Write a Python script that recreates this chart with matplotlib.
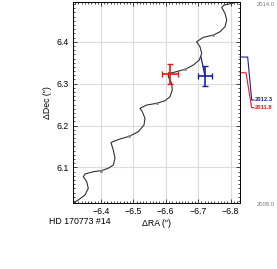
import matplotlib
matplotlib.use("Agg")
import matplotlib.pyplot as plt
from matplotlib.ticker import MultipleLocator, FuncFormatter

plt.rcParams['font.family'] = ['Liberation Sans', 'DejaVu Sans']

# model track
track_ra = [-6.3136, -6.3300, -6.3506, -6.3608, -6.3559, -6.3454, -6.3506, -6.3762,
            -6.4000, -6.4225, -6.4380, -6.4432, -6.4380, -6.4309, -6.4361, -6.4586,
            -6.4870, -6.5151, -6.5327, -6.5358, -6.5275, -6.5204, -6.5410, -6.5719,
            -6.5975, -6.6130, -6.6200, -6.6182, -6.6077, -6.6083, -6.6280, -6.6593,
            -6.6849, -6.7034, -6.7108, -6.7056, -6.6948, -6.7157, -6.7466, -6.7673,
            -6.7827, -6.7880, -6.7827, -6.7725, -6.7796, -6.8034, -6.8238]
track_dec = [6.0150, 6.0222, 6.0341, 6.0501, 6.0659, 6.0778, 6.0842, 6.0897,
             6.0921, 6.0979, 6.1057, 6.1217, 6.1415, 6.1589, 6.1613, 6.1678,
             6.1742, 6.1852, 6.2012, 6.2172, 6.2329, 6.2410, 6.2489, 6.2530,
             6.2592, 6.2687, 6.2847, 6.3007, 6.3165, 6.3241, 6.3277, 6.3341,
             6.3444, 6.3563, 6.3723, 6.3881, 6.4000, 6.4105, 6.4160, 6.4239,
             6.4358, 6.4518, 6.4678, 6.4821, 6.4876, 6.4916, 6.4955]

# yearly marks on the track
dot_ra = [-6.4000, -6.4870, -6.5719, -6.6593, -6.7466]
dot_dec = [6.0921, 6.1742, 6.2530, 6.3341, 6.4160]

# measurements
epochs = ["2012.3", "2011.8"]
meas_ra = [-6.721, -6.613]
meas_dec = [6.318, 6.323]
err_ra = [0.0225, 0.0247]
err_dec = [0.024, 0.025]
pred_ra = [-6.7086, -6.6083]
pred_dec = [6.3635, 6.3260]
colors = ["#1f1f9e", "#f01414"]

xlim = (-6.3136, -6.829)
ylim = (6.015, 6.495)

fig = plt.figure(figsize=(2.77, 2.69), dpi=100)
ax = fig.add_axes([0.2635, 0.2454, 0.6029, 0.7472])

ax.plot(track_ra, track_dec, color='#303030', lw=0.8, zorder=2)
ax.plot(dot_ra, dot_dec, 'o', color='#8a8a8a', ms=2.2, mew=0, zorder=3)

for i in range(len(epochs)):
    ax.plot([pred_ra[i], meas_ra[i]], [pred_dec[i], meas_dec[i]], color=colors[i], lw=0.9, zorder=4)
    ax.errorbar(meas_ra[i], meas_dec[i], xerr=err_ra[i], yerr=err_dec[i], color=colors[i],
                elinewidth=1.2, capsize=2.0, capthick=1.0, zorder=5)

ax.set_xlim(*xlim)
ax.set_ylim(*ylim)
ax.xaxis.set_major_locator(MultipleLocator(0.1))
ax.xaxis.set_minor_locator(MultipleLocator(0.01))
ax.yaxis.set_major_locator(MultipleLocator(0.1))
ax.yaxis.set_minor_locator(MultipleLocator(0.01))
ax.xaxis.set_major_formatter(FuncFormatter(lambda v, p: f"{v:.1f}".replace("-", "\u2212")))
ax.yaxis.set_major_formatter(FuncFormatter(lambda v, p: f"{v:.1f}"))
ax.tick_params(which='both', direction='in', top=True, right=True, width=0.5, labelsize=6.3, pad=3)
ax.tick_params(which='major', length=3)
ax.tick_params(which='minor', length=1.6)
ax.grid(True, which='major', color='#dcdcdc', lw=0.8, zorder=0)
for s in ax.spines.values():
    s.set_linewidth(0.7)

ax.set_xlabel("\u0394RA (\u2033)", fontsize=6.3, labelpad=2)
ax.set_ylabel("\u0394Dec (\u2033)", fontsize=6.3, labelpad=3)
fig.text(0.178, 0.175, "HD 170773 #14", fontsize=6.3, va='center', ha='left')

# epoch labels to the right of the plot
lab_y = [0.5124, 0.474]
knee_x = [1.046, 1.036]
for i in range(len(epochs)):
    y0 = (pred_dec[i] - ylim[0]) / (ylim[1] - ylim[0])
    ax.plot([1.0, knee_x[i], 1.070, 1.084], [y0, y0, lab_y[i], lab_y[i]], color=colors[i],
            lw=0.8, transform=ax.transAxes, clip_on=False)
    ax.text(1.090, lab_y[i], epochs[i], color=colors[i], fontsize=4.2, fontweight='bold',
            va='center', ha='left', transform=ax.transAxes)
fig.text(0.927, 0.985, "2014.0", fontsize=4.2, color='#777777', va='center', ha='left')
fig.text(0.927, 0.238, "2008.0", fontsize=4.2, color='#777777', va='center', ha='left')

fig.savefig("out.png", dpi=100)
